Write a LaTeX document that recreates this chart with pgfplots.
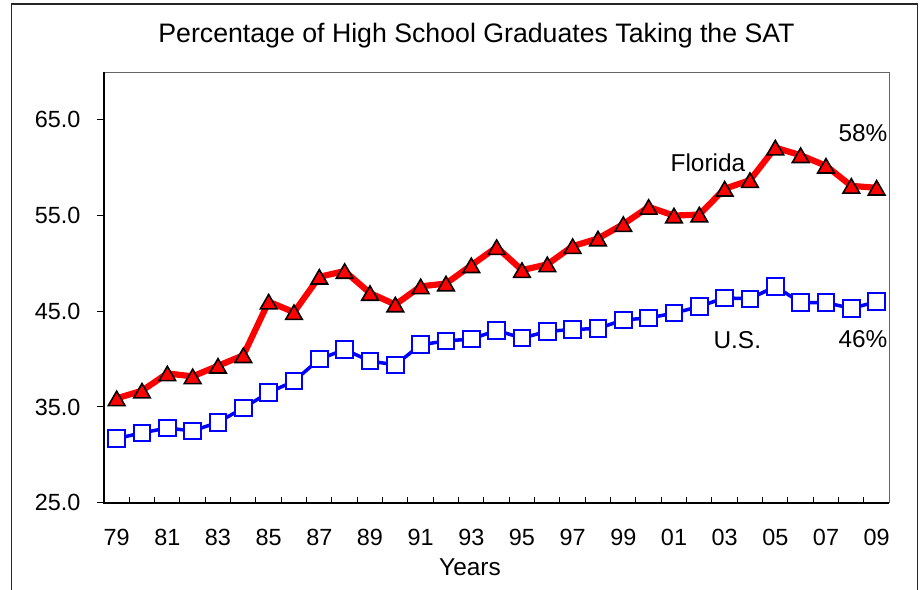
\documentclass[border=0pt]{standalone}
\usepackage{fontspec}
\setmainfont{Liberation Sans}
\usepackage{pgfplots}
\pgfplotsset{compat=1.18}

\begin{document}
\begin{tikzpicture}
\useasboundingbox (0bp,0bp) rectangle (923bp,590bp);
% outer frame (bottom edge falls outside the picture)
\draw[line width=1.3bp, black!85] (11.7bp,-10bp) -- (11.7bp,586bp) -- (917.7bp,586bp) -- (917.7bp,-10bp);
\node[font=\fontsize{26.8}{30}\selectfont] at (476.5bp,554bp) {Percentage of High School Graduates Taking the SAT};
\node[font=\fontsize{24.5}{28}\selectfont] at (470bp,22.5bp) {Years};
\begin{axis}[
    at={(104bp,87.3bp)}, anchor=south west,
    scale only axis,
    width=785.3bp, height=430.7bp,
    xmin=1978.5, xmax=2009.5,
    ymin=25, ymax=70,
    xtick={1979,1981,...,2009},
    xticklabels={79,81,83,85,87,89,91,93,95,97,99,01,03,05,07,09},
    minor xtick={1979.5,1980.5,...,2008.5},
    ytick={25,35,45,55,65},
    tick pos=left,
    xtick align=inside,
    ytick align=outside,
    major tick length=7bp,
    minor tick length=6bp,
    major x tick style={draw=none},
    tick style={black, line width=1bp},
    axis line style={draw=black!60, line width=0.75bp},
    /pgf/number format/assume math mode=true,
    tick label style={font=\fontsize{23.5}{28}\selectfont, black},
    y tick label style={/pgf/number format/fixed, /pgf/number format/fixed zerofill, /pgf/number format/precision=1, xshift=-13bp},
    x tick label style={yshift=-22.5bp},
    clip=false,
]
% U.S.
\addplot[blue, line width=3.5bp, mark=square*, mark size=8.3bp,
    mark options={fill=white, draw=blue, line width=2bp}]
    coordinates {(1979,31.7) (1980,32.3) (1981,32.8) (1982,32.5) (1983,33.4)
    (1984,34.9) (1985,36.5) (1986,37.7) (1987,40.0) (1988,41.0) (1989,39.8)
    (1990,39.4) (1991,41.5) (1992,41.9) (1993,42.1) (1994,43.0) (1995,42.2)
    (1996,42.9) (1997,43.1) (1998,43.2) (1999,44.1) (2000,44.3) (2001,44.8)
    (2002,45.5) (2003,46.4) (2004,46.3) (2005,47.6) (2006,45.9) (2007,45.9)
    (2008,45.3) (2009,46.0)};
% Florida
\addplot[red, line width=6.2bp, mark=triangle*, mark size=9.6bp,
    mark options={fill=red, draw=black, line width=1.6bp, yshift=-2.4bp}]
    coordinates {(1979,35.9) (1980,36.7) (1981,38.5) (1982,38.2) (1983,39.3)
    (1984,40.4) (1985,46.0) (1986,44.9) (1987,48.6) (1988,49.2) (1989,46.9)
    (1990,45.7) (1991,47.6) (1992,47.9) (1993,49.8) (1994,51.7) (1995,49.3)
    (1996,49.9) (1997,51.8) (1998,52.6) (1999,54.1) (2000,55.9) (2001,55.0)
    (2002,55.1) (2003,57.8) (2004,58.7) (2005,62.1) (2006,61.3) (2007,60.2)
    (2008,58.1) (2009,57.9)};
\draw[black, line width=1.6bp] (rel axis cs:0,1) -- (rel axis cs:0,0) -- (rel axis cs:1,0);
\node[font=\fontsize{24.5}{28}\selectfont] at (axis cs:2002.34,60.5) {Florida};
\node[font=\fontsize{24.5}{28}\selectfont] at (axis cs:2008.46,63.6) {58\%};
\node[font=\fontsize{24.5}{28}\selectfont] at (axis cs:2003.5,42.0) {U.S.};
\node[font=\fontsize{24.5}{28}\selectfont] at (axis cs:2008.46,42.1) {46\%};
\end{axis}
\end{tikzpicture}
\end{document}
